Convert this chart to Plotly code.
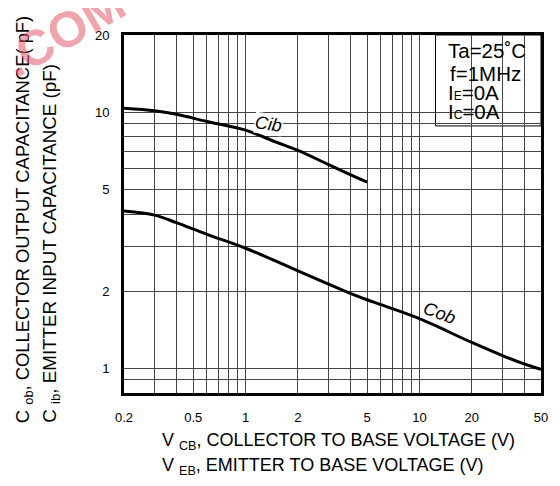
import numpy as np
import plotly.graph_objects as go

# ---- data ----
v_cob = [0.2, 0.3, 0.4, 0.6, 1, 2, 3, 4, 5, 6, 10, 20, 30, 40, 50]
c_ob = [4.11, 3.96, 3.70, 3.33, 2.94, 2.40, 2.13, 1.96, 1.85, 1.77, 1.56, 1.26, 1.12, 1.04, 0.99]

v_cib = [0.2, 0.3, 0.4, 0.6, 1, 1.5, 2, 3, 4, 5]
c_ib = [10.35, 10.12, 9.80, 9.19, 8.5, 7.63, 7.09, 6.24, 5.70, 5.33]

x_grid = [0.2, 0.3, 0.4, 0.5, 0.6, 0.7, 0.8, 0.9, 1, 2, 3, 4, 5, 6, 7, 8, 9, 10, 20, 30, 40, 50]
x_labels = {0.2: "0.2", 0.5: "0.5", 1: "1", 2: "2", 5: "5", 10: "10", 20: "20", 50: "50"}
y_grid = [0.9, 1, 2, 3, 4, 5, 6, 7, 8, 9, 10, 20]
y_labels = {1: "1", 2: "2", 5: "5", 10: "10", 20: "20"}

FONT = "Liberation Sans, Arial, sans-serif"

fig = go.Figure()
fig.add_trace(go.Scatter(x=v_cob, y=c_ob, mode="lines", line=dict(color="black", width=3, shape="spline"),
                         showlegend=False, hoverinfo="skip"))
fig.add_trace(go.Scatter(x=v_cib, y=c_ib, mode="lines", line=dict(color="black", width=3, shape="spline"),
                         showlegend=False, hoverinfo="skip"))

# the page body adds an 8px offset, so the figure is 8px smaller on each side
fig.update_layout(
    width=552, height=478,
    margin=dict(l=116, r=12, t=27, b=93),
    paper_bgcolor="white", plot_bgcolor="white",
    font=dict(family=FONT, color="black"),
    showlegend=False,
)
fig.update_xaxes(
    type="log", range=[np.log10(0.2), np.log10(50)],
    tickvals=x_grid, ticktext=[x_labels.get(v, "") for v in x_grid],
    showgrid=True, gridcolor="#444", gridwidth=1,
    showline=True, linecolor="black", linewidth=3, mirror=True,
    ticks="", ticklabelstandoff=10, tickfont=dict(size=13, family=FONT, color="black"),
    zeroline=False,
)
fig.update_yaxes(
    type="log", range=[np.log10(0.8), np.log10(20)],
    tickvals=y_grid, ticktext=[y_labels.get(v, "") for v in y_grid],
    showgrid=True, gridcolor="#444", gridwidth=1,
    showline=True, linecolor="black", linewidth=3, mirror=True,
    ticks="", ticklabelstandoff=9, tickfont=dict(size=13, family=FONT, color="black"),
    zeroline=False,
)

# condition box
fig.add_shape(type="rect", xref="paper", yref="paper", x0=0.747, x1=1, y0=0.746, y1=1,
              fillcolor="white", line=dict(color="black", width=1), layer="between")

box_lines = [
    ("Ta=25˚C", 0.956, 0.771),
    ("f=1MHz", 0.893, 0.776),
    ("I<span style='font-size:12px'>E</span>=0A", 0.839, 0.771),
    ("I<span style='font-size:12px'>C</span>=0A", 0.786, 0.771),
]
for txt, yy, xx in box_lines:
    fig.add_annotation(text=txt, xref="paper", yref="paper", x=xx, y=yy, xanchor="left", yanchor="middle",
                       showarrow=False, font=dict(size=20.5, family=FONT, color="black"))

# curve labels
fig.add_annotation(text="<i>Cib</i>", x=np.log10(1.35), y=np.log10(9.0), showarrow=False, textangle=8,
                   bgcolor="white", borderpad=0, font=dict(size=18, family=FONT, color="black"))
fig.add_annotation(text="<i>Cob</i>", x=np.log10(13.0), y=np.log10(1.64), showarrow=False, textangle=20,
                   bgcolor="white", borderpad=0, font=dict(size=18, family=FONT, color="black"))

# axis titles (two lines each)
fig.add_annotation(text="V <sub>CB</sub>, COLLECTOR TO BASE VOLTAGE (V)", xref="paper", yref="paper",
                   x=0.0873, y=-0.136, xanchor="left", yanchor="middle", showarrow=False,
                   font=dict(size=18, family=FONT, color="black"))
fig.add_annotation(text="V <sub>EB</sub>, EMITTER TO BASE VOLTAGE (V)", xref="paper", yref="paper",
                   x=0.0873, y=-0.206, xanchor="left", yanchor="middle", showarrow=False,
                   font=dict(size=18, family=FONT, color="black"))
fig.add_annotation(text="C <sub>ob</sub>, COLLECTOR OUTPUT CAPACITANCE( pF)", xref="paper", yref="paper",
                   x=-0.2406, y=-0.0894, xanchor="center", yanchor="bottom", textangle=-90, showarrow=False,
                   font=dict(size=18.4, family=FONT, color="black"))
fig.add_annotation(text="C <sub>ib</sub>, EMITTER INPUT CAPACITANCE (pF)", xref="paper", yref="paper",
                   x=-0.1769, y=-0.0894, xanchor="center", yanchor="bottom", textangle=-90, showarrow=False,
                   font=dict(size=18.8, family=FONT, color="black"))

# faint watermark fragment in the top-left corner
fig.add_annotation(text="<b>.COM</b>", xref="paper", yref="paper", x=-0.142, y=1.01,
                   xanchor="center", yanchor="middle", textangle=-30, showarrow=False,
                   font=dict(size=50, family=FONT, color="rgba(228,90,105,0.55)"))

fig.write_html("out.html")
